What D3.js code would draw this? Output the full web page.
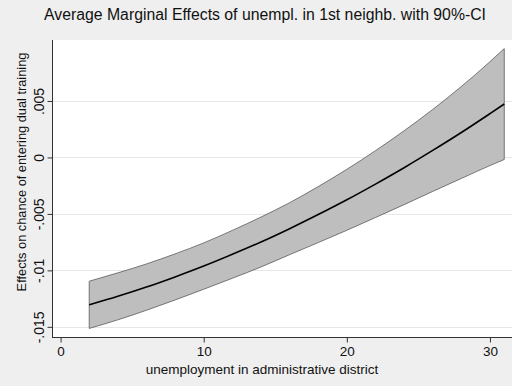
<!DOCTYPE html>
<html>
<head>
<meta charset="utf-8">
<script src="https://cdn.jsdelivr.net/npm/d3@7"></script>
<style>
  html, body { margin: 0; padding: 0; background: #efefef; }
  svg { display: block; }
  text { font-family: "Liberation Sans", Arial, sans-serif; fill: #111; }
</style>
</head>
<body>
<svg id="chart" width="512" height="386"></svg>
<script>
// Unemployment rate in the administrative district (evaluation points)
const unemployment = [2, 4, 6, 8, 10, 12, 14, 16, 18, 20, 22, 24, 26, 28, 30, 31];
// Average marginal effect of unemployment in the 1st neighbouring district
const effect = [-0.01305, -0.01230, -0.01148, -0.01058, -0.00962, -0.00858, -0.00749, -0.00631,
                -0.00506, -0.00375, -0.00236, -0.00091, 0.00062, 0.00221, 0.00388, 0.00473];
// 90% confidence interval bounds
const ciUpper = [-0.01096, -0.01022, -0.00943, -0.00854, -0.00757, -0.00646, -0.00528, -0.00401,
                 -0.00258, -0.00105, 0.00060, 0.00236, 0.00425, 0.00628, 0.00848, 0.00964];
const ciLower = [-0.01514, -0.01438, -0.01353, -0.01262, -0.01167, -0.01070, -0.00970, -0.00861,
                 -0.00754, -0.00645, -0.00532, -0.00418, -0.00301, -0.00186, -0.00072, -0.00018];

const xTicks = [0, 10, 20, 30];
const yTicks = [-0.015, -0.01, -0.005, 0, 0.005];
const yTickLabels = ["-.015", "-.01", "-.005", "0", ".005"];

const titleText = "Average Marginal Effects of unempl. in 1st neighb. with 90%-CI";
const xTitle = "unemployment in administrative district";
const yTitle = "Effects on chance of entering dual training";

const svg = d3.select("#chart");
const W = 512, H = 386;
const plot = { left: 52, right: 512, top: 40, bottom: 337 };

const x = d3.scaleLinear().domain([-0.6, 31.4]).range([plot.left, 510]);
const y = d3.scaleLinear().domain([-0.0159, 0.0104]).range([plot.bottom, plot.top]);

const rows = unemployment.map((u, i) => ({ u, m: effect[i], hi: ciUpper[i], lo: ciLower[i] }));

// outer background
svg.append("rect").attr("width", W).attr("height", H).attr("fill", "#efefef");
// plot region
svg.append("rect")
  .attr("x", plot.left).attr("y", plot.top)
  .attr("width", plot.right - plot.left).attr("height", plot.bottom - plot.top)
  .attr("fill", "#ffffff");

// horizontal grid lines
svg.append("g").selectAll("line").data(yTicks).join("line")
  .attr("x1", plot.left).attr("x2", plot.right)
  .attr("y1", d => Math.round(y(d)) + 0.5).attr("y2", d => Math.round(y(d)) + 0.5)
  .attr("stroke", "#e6e8e8").attr("stroke-width", 1);

// confidence band (closed polygon with outline)
const band = d3.area()
  .x(d => x(d.u)).y0(d => y(d.lo)).y1(d => y(d.hi))
  .curve(d3.curveMonotoneX);
svg.append("path")
  .attr("d", band(rows) + "Z")
  .attr("fill", "#bebebe")
  .attr("stroke", "#5a5a5a").attr("stroke-width", 0.8);

// point estimate line
const line = d3.line().x(d => x(d.u)).y(d => y(d.m)).curve(d3.curveMonotoneX);
svg.append("path").datum(rows).attr("d", line)
  .attr("fill", "none").attr("stroke", "#000").attr("stroke-width", 1.6);

// x axis
const xAxis = d3.axisBottom(x).tickValues(xTicks).tickSize(5).tickPadding(4).tickFormat(d3.format("d"));
const gx = svg.append("g").attr("transform", `translate(0,${plot.bottom + 0.5})`).call(xAxis);
gx.select(".domain").attr("d", `M${plot.left},0H${plot.right}`).attr("stroke", "#333");
gx.selectAll(".tick line").attr("stroke", "#333");
gx.selectAll(".tick text").attr("font-size", 13.5).attr("font-family", "Liberation Sans, Arial, sans-serif").attr("fill", "#111");

// y axis
const yAxis = d3.axisLeft(y).tickValues(yTicks).tickSize(5).tickFormat((d, i) => yTickLabels[i]);
const gy = svg.append("g").attr("transform", `translate(${plot.left + 0.5},0)`).call(yAxis);
gy.select(".domain").attr("d", `M0,${plot.top}V${plot.bottom}`).attr("stroke", "#333");
gy.selectAll(".tick line").attr("stroke", "#333");
gy.selectAll(".tick text")
  .attr("font-size", 14).attr("font-family", "Liberation Sans, Arial, sans-serif").attr("fill", "#111")
  .attr("x", null).attr("dy", null)
  .attr("text-anchor", "middle")
  .attr("transform", "translate(-8.5,0) rotate(-90)");

// titles
svg.append("text").attr("x", 265).attr("y", 20).attr("text-anchor", "middle")
  .attr("font-size", 15.8).text(titleText);
svg.append("text").attr("x", 262).attr("y", 374).attr("text-anchor", "middle")
  .attr("font-size", 13.5).text(xTitle);
svg.append("text").attr("transform", "translate(26,172) rotate(-90)").attr("text-anchor", "middle")
  .attr("font-size", 12.8).text(yTitle);
</script>
</body>
</html>
